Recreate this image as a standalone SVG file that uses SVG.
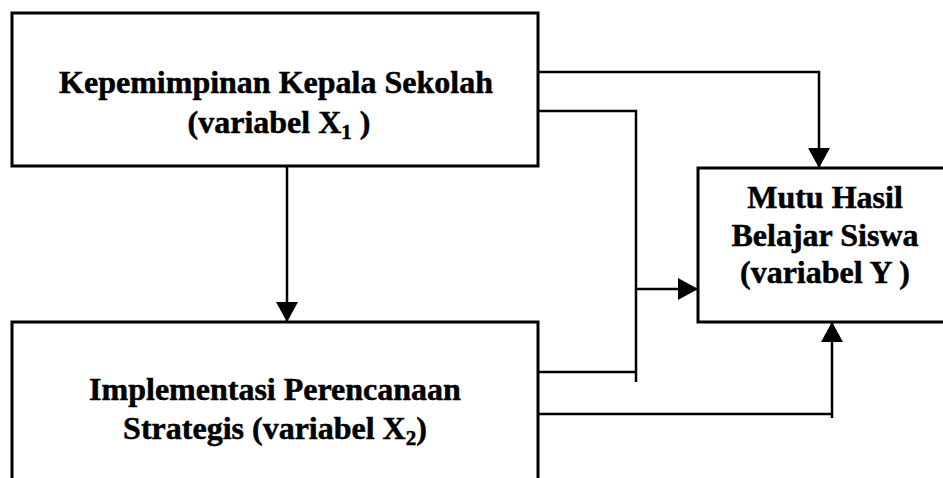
<svg xmlns="http://www.w3.org/2000/svg" width="943" height="478" viewBox="0 0 943 478">
<style>
.box{fill:#fff;stroke:#000;stroke-width:3}
.lbl{font-family:"Liberation Serif","Times New Roman",serif;font-weight:bold;font-size:32px;fill:#000;stroke:#000;stroke-width:0.5;text-anchor:middle}
.sub{font-size:21px}
.con{fill:none;stroke:#000;stroke-width:2.5}
</style>
<defs>
<marker id="arr" viewBox="0 0 20 22" refX="20" refY="11" markerWidth="20" markerHeight="22" markerUnits="userSpaceOnUse" orient="auto">
<path d="M0,0 L20,11 L0,22 Z" fill="#000"/>
</marker>
</defs>
<rect width="943" height="478" fill="#fff"/>
<g id="node-x1">
<rect class="box" x="12" y="13" width="526" height="153"/>
<text class="lbl" x="276" y="93">Kepemimpinan Kepala Sekolah</text>
<text class="lbl" x="279" y="133">(variabel X<tspan class="sub" dy="6">1</tspan><tspan dy="-6"> )</tspan></text>
</g>
<g id="node-x2">
<rect class="box" x="12" y="322" width="526" height="170"/>
<text class="lbl" x="275" y="400">Implementasi Perencanaan</text>
<text class="lbl" x="275" y="439">Strategis (variabel X<tspan class="sub" dy="6">2</tspan><tspan dy="-6">)</tspan></text>
</g>
<g id="node-y">
<rect class="box" x="698" y="168" width="260" height="154"/>
<text class="lbl" x="825" y="208">Mutu Hasil</text>
<text class="lbl" x="825" y="246">Belajar Siswa</text>
<text class="lbl" x="825" y="283">(variabel Y )</text>
</g>
<g id="connectors">
<path class="con" d="M287,166 V322" marker-end="url(#arr)"/>
<path class="con" d="M538,72 H819 V168" marker-end="url(#arr)"/>
<path class="con" d="M538,111 H636 V382"/>
<path class="con" d="M538,372 H636"/>
<path class="con" d="M636,289 H698" marker-end="url(#arr)"/>
<path class="con" d="M538,414 H832"/>
<path class="con" d="M832,418 V322" marker-end="url(#arr)"/>
</g>
</svg>
